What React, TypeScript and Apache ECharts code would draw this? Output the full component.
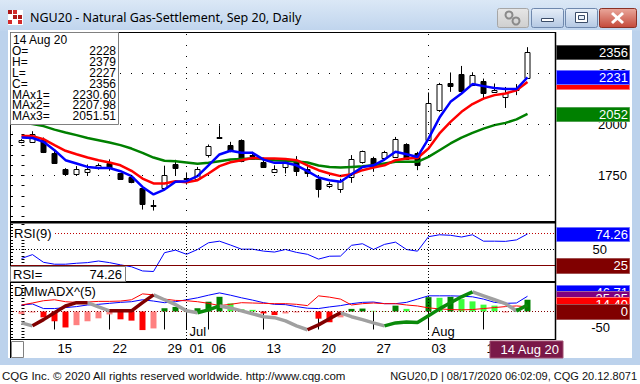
import React, { useEffect, useRef } from 'react';
import * as echarts from 'echarts';

const FONT = '"Liberation Sans", Arial, sans-serif';
const UI_FONT = '"Noto Sans", "DejaVu Sans", sans-serif';

const titleText = 'NGU20 - Natural Gas-Settlement, Sep 20, Daily';
const footerLeft = 'CQG Inc. \u00a9 2020 All rights reserved worldwide. http://www.cqg.com';
const footerRight = 'NGU20,D | 08/17/2020 06:02:09, CQG 20.12.8071';
const lastDateLabel = '14 Aug 20';

const dates = [
  '06-10', '06-11', '06-12', '06-15', '06-16', '06-17', '06-18', '06-19', '06-22', '06-23',
  '06-24', '06-25', '06-26', '06-29', '06-30', '07-01', '07-02', '07-06', '07-07', '07-08',
  '07-09', '07-10', '07-13', '07-14', '07-15', '07-16', '07-17', '07-20', '07-21', '07-22',
  '07-23', '07-24', '07-27', '07-28', '07-29', '07-30', '07-31', '08-03', '08-04', '08-05',
  '08-06', '08-07', '08-10', '08-11', '08-12', '08-13', '08-14',
];
const monthNames = ['Jan', 'Feb', 'Mar', 'Apr', 'May', 'Jun', 'Jul', 'Aug', 'Sep', 'Oct', 'Nov', 'Dec'];

const opens = [1912, 1915, 1923, 1858, 1784, 1756, 1768, 1786, 1812, 1760, 1743, 1688, 1600, 1690, 1808, 1735, 1734, 1850, 1935, 1898, 1923, 1845, 1815, 1768, 1792, 1828, 1784, 1733, 1697, 1685, 1741, 1817, 1838, 1835, 1841, 1903, 1858, 1926, 2070, 2204, 2247, 2193, 2212, 2160, 2135, 2178, 2228];
const highs = [1928, 1967, 1936, 1870, 1786, 1796, 1804, 1809, 1829, 1762, 1745, 1690, 1630, 1798, 1827, 1765, 1792, 1902, 1996, 1915, 1927, 1866, 1838, 1800, 1829, 1845, 1799, 1737, 1717, 1734, 1850, 1872, 1842, 1871, 1939, 1908, 1866, 2157, 2204, 2255, 2287, 2256, 2225, 2201, 2184, 2198, 2379];
const lows = [1908, 1913, 1860, 1808, 1750, 1750, 1752, 1779, 1773, 1733, 1712, 1583, 1578, 1687, 1749, 1705, 1732, 1838, 1933, 1864, 1815, 1838, 1788, 1763, 1760, 1749, 1743, 1642, 1688, 1665, 1714, 1808, 1768, 1828, 1838, 1830, 1776, 1923, 2062, 2160, 2158, 2188, 2123, 2158, 2081, 2144, 2227];
const closes = [1923, 1951, 1863, 1812, 1756, 1784, 1784, 1799, 1787, 1735, 1719, 1610, 1605, 1751, 1788, 1738, 1784, 1894, 1940, 1868, 1820, 1850, 1791, 1784, 1817, 1773, 1764, 1682, 1710, 1721, 1831, 1868, 1792, 1863, 1931, 1833, 1801, 2103, 2198, 2189, 2163, 2242, 2152, 2171, 2152, 2168, 2356];

const ma1 = [1936, 1934, 1915, 1874, 1825, 1809, 1792, 1787, 1787, 1771, 1747, 1694, 1657, 1681, 1719, 1722, 1747, 1800, 1853, 1871, 1861, 1861, 1828, 1812, 1812, 1800, 1771, 1740, 1727, 1719, 1756, 1792, 1800, 1828, 1866, 1854, 1841, 1931, 2034, 2111, 2152, 2198, 2188, 2179, 2174, 2174, 2230.6];
const ma2 = [1943, 1943, 1928, 1899, 1871, 1854, 1838, 1825, 1814, 1800, 1773, 1735, 1711, 1711, 1722, 1717, 1727, 1760, 1796, 1815, 1825, 1836, 1833, 1833, 1831, 1825, 1799, 1776, 1760, 1747, 1756, 1776, 1789, 1800, 1825, 1833, 1836, 1882, 1956, 2013, 2062, 2100, 2127, 2144, 2152, 2168, 2207.98];
const ma3 = [2010, 2002, 1992, 1975, 1961, 1948, 1934, 1923, 1912, 1899, 1882, 1861, 1838, 1822, 1820, 1814, 1808, 1812, 1820, 1828, 1831, 1833, 1831, 1825, 1822, 1818, 1814, 1799, 1792, 1789, 1792, 1795, 1800, 1809, 1817, 1817, 1817, 1841, 1874, 1907, 1936, 1959, 1980, 1997, 2008, 2025, 2051.51];

const rsi = [36, 42, 30, 27, 27, 28.5, 29.5, 32, 29.5, 26, 23, 16.5, 15.6, 45, 49, 42.5, 50, 60.5, 63, 57, 50.5, 50.5, 47.5, 46, 50, 45.5, 42.5, 35, 39.5, 39.7, 56.5, 59, 50, 58, 61.5, 50, 47.4, 70, 73, 72.2, 69.5, 73, 63, 63, 62.7, 65, 74.26];

const diPlus = [20, 23, 9, 9, 12, 15, 20, 22, 25, 28, 30, 36, 32, 27, 30, 36, 42, 50, 57, 50, 42, 35, 27, 22, 21, 15, 10, 9, 14, 18, 24, 28, 29, 24, 24, 28, 38, 48, 48, 48, 47, 45, 38, 28, 25, 26, 46.71];
const diMinus = [20, 26, 33, 36, 30, 28, 29, 31, 31, 32, 36, 54, 51, 38, 34, 33, 30, 25, 18, 22, 27, 26, 25, 24, 24, 22, 18, 48, 44, 38, 20, 24, 26, 24, 24, 20, 17, 11, 8, 6, 5, 6, 9, 12, 15, 17, 14.4];
const adx = [-35, -44, -25, -4, 17, 27, 27, 14, 2, 2, 2, 27, 51, 36, 21, 2, -4, 5, 17, 11, 2, -7, -16, -19, -29, -44, -56, -41, -22, -4, -16, -25, -35, -44, -35, -32, -34, -13, 8, 27, 45, 60, 48, 36, 24, 2, 20];
// trend of each ADX segment: g = falling (grey), r = rising / DI- (dark red), n = rising / DI+ (green)
const adxTrend = 'grrrrrggrrrrggggnnggggggggrrrggggnnnnnnnnggggn';
const dmiHist = [-8, -3, -18, -30, -49, -42, -30, -21, -9, -24, -28, -57, -52, 10, 14, 4, 10, 30, 45, 25, 7, 5, -6, -11, -6, -3, -2, -22, -33, -18, 8, 9, 2, 1, 18, 8, 1, 44, 42, 45, 38, 31, 21, 18, -3, 10, 36];
const dmiHistColor = 'rrRRRrrrrRRRrGGgGGGgggRRrrrRRrGGggGggGgGggggrGG';
const adxrLast = 35.35;

const priceLabels = [1750, 2000, 2250];
const rsiLabels = [50];
const dmiLabels = [-50];
const rsiOver = 75;
const rsiMid = 50;
const rsiUnder = 25;

const X_MIN = -1.045;
const X_MAX = 48.5;
const P_MIN = 1522.0;
const P_MAX = 2453.4;
const R_MIN = 0.78;
const R_MAX = 91.4;
const D_MIN = -84.4;
const D_MAX = 87.4;

const histColors: Record<string, string> = { R: '#ff0000', r: '#ff8080', G: '#008000', g: '#3cff3c' };
const adxColors: Record<string, string> = { g: '#a0a0a0', r: '#800000', n: '#0a8a0a' };

function range(a: number, b: number, step: number) {
  const out: number[] = [];
  for (let v = a; v <= b + 1e-9; v += step) out.push(v);
  return out;
}

const monthStarts = dates
  .map((d, i) => (i > 0 && d.slice(0, 2) !== dates[i - 1].slice(0, 2) ? i : -1))
  .filter((i) => i >= 0);
const labelIdx = dates
  .map((d, i) => {
    const day = new Date('2020-' + d + 'T00:00:00Z').getUTCDay();
    return i > 0 && (day === 1 || monthStarts.includes(i)) ? i : -1;
  })
  .filter((i) => i >= 0);

function buildOption(): any {
  const n = dates.length;
  const adxSeries = ['g', 'r', 'n'].map((c) => {
    const data: any[] = [];
    let prevEnd = -5;
    for (let k = 0; k < n - 1; k++) {
      if (adxTrend[k] !== c) continue;
      if (prevEnd !== k) {
        if (data.length) data.push([k - 0.01, '-']);
        data.push([k, adx[k]]);
      }
      data.push([k + 1, adx[k + 1]]);
      prevEnd = k + 1;
    }
    return {
      type: 'line', xAxisIndex: 2, yAxisIndex: 2, data, symbol: 'none', z: 5,
      lineStyle: { color: adxColors[c], width: 3.5 }, connectNulls: false, silent: true,
    };
  });

  const dotted = (color: string, gap: number) => ({ color, width: 1, type: [1, gap] });
  const vLines = (gap: number) => monthStarts.map((i) => ({ xAxis: i, lineStyle: dotted('#000', gap) }));

  const xAxisBase = { type: 'value', min: X_MIN, max: X_MAX, splitLine: { show: false } };
  const tickAxis = (gridIndex: number, min: number, max: number, step: number) => ({
    gridIndex, type: 'value', min, max, position: 'left',
    splitLine: { show: false }, axisLine: { show: false },
    axisLabel: { show: false },
    axisTick: { show: true, inside: true, length: 3, customValues: range(Math.ceil(min / step) * step, max, step), lineStyle: { color: '#000' } },
  });
  const labelFmt = (v: number) => String(v);

  return {
    animation: false,
    grid: [
      { left: 10, top: 32, width: 545, height: 190 },
      { left: 10, top: 223, width: 545, height: 58 },
      { left: 10, top: 283, width: 545, height: 56 },
    ],
    xAxis: [
      { ...xAxisBase, gridIndex: 0, show: false },
      { ...xAxisBase, gridIndex: 1, show: false },
      {
        ...xAxisBase, gridIndex: 2, position: 'bottom',
        axisLine: { show: false },
        axisTick: { show: true, customValues: labelIdx, length: 18, lineStyle: { color: '#000' } },
        axisLabel: {
          show: true, customValues: labelIdx, align: 'left', margin: 3, padding: [0, 0, 0, 3],
          fontSize: 13, fontFamily: FONT, color: '#000',
          formatter: (v: number) => dates[Math.round(v)].slice(3),
        },
      },
    ],
    yAxis: [
      {
        gridIndex: 0, type: 'value', min: P_MIN, max: P_MAX, position: 'right',
        splitLine: { show: false }, axisLine: { show: false },
        axisTick: { show: true, length: 3, customValues: range(1550, 2450, 50), lineStyle: { color: '#000' } },
        axisLabel: { customValues: priceLabels, formatter: labelFmt, align: 'right', margin: 72, fontSize: 13, fontFamily: FONT, color: '#000' },
      },
      {
        gridIndex: 1, type: 'value', min: R_MIN, max: R_MAX, position: 'right',
        splitLine: { show: false }, axisLine: { show: false },
        axisTick: { show: true, length: 3, customValues: range(5, 90, 5), lineStyle: { color: '#000' } },
        axisLabel: { customValues: rsiLabels, formatter: labelFmt, align: 'right', margin: 52, fontSize: 13, fontFamily: FONT, color: '#000' },
      },
      {
        gridIndex: 2, type: 'value', min: D_MIN, max: D_MAX, position: 'right',
        splitLine: { show: false }, axisLine: { show: false },
        axisTick: { show: true, length: 3, customValues: range(-80, 80, 10), lineStyle: { color: '#000' } },
        axisLabel: { customValues: dmiLabels, formatter: labelFmt, align: 'right', margin: 55, fontSize: 13, fontFamily: FONT, color: '#000' },
      },
      tickAxis(0, P_MIN, P_MAX, 50),
      tickAxis(1, R_MIN, R_MAX, 5),
      tickAxis(2, D_MIN, D_MAX, 10),
    ],
    series: [
      {
        type: 'custom', xAxisIndex: 0, yAxisIndex: 0, clip: true, z: 2,
        data: opens.map((o, i) => [i, o, highs[i], lows[i], closes[i]]),
        encode: { x: 0, y: [1, 2, 3, 4] },
        renderItem: (params: any, api: any) => {
          const x = api.value(0);
          const o = api.value(1), h = api.value(2), l = api.value(3), c = api.value(4);
          const pO = api.coord([x, o]), pC = api.coord([x, c]);
          const pH = api.coord([x, h]), pL = api.coord([x, l]);
          const xc = Math.floor(pO[0]) + 0.5;
          const top = Math.round(Math.min(pO[1], pC[1])) + 0.5;
          const bot = Math.round(Math.max(pO[1], pC[1])) + 0.5;
          const up = c >= o;
          return {
            type: 'group',
            children: [
              { type: 'line', shape: { x1: xc, y1: pH[1], x2: xc, y2: pL[1] }, style: { stroke: '#000', lineWidth: 1 } },
              { type: 'rect', shape: { x: xc - 2.5, y: top, width: 5, height: Math.max(bot - top, 1) }, style: { fill: up ? '#ffffff' : '#000000', stroke: '#000', lineWidth: 1 } },
            ],
          };
        },
      },
      {
        type: 'line', xAxisIndex: 0, yAxisIndex: 0, data: ma3.map((v, i) => [i, v]), symbol: 'none', z: 3,
        lineStyle: { color: '#008000', width: 2.5 }, silent: true,
        markLine: {
          silent: true, symbol: ['none', 'none'], label: { show: false }, animation: false,
          data: [
            ...priceLabels.map((v) => ({ yAxis: v, lineStyle: dotted('#000', 10) })),
            ...vLines(10),
          ],
        },
      },
      { type: 'line', xAxisIndex: 0, yAxisIndex: 0, data: ma2.map((v, i) => [i, v]), symbol: 'none', z: 3, lineStyle: { color: '#ff0000', width: 2.5 }, silent: true },
      { type: 'line', xAxisIndex: 0, yAxisIndex: 0, data: ma1.map((v, i) => [i, v]), symbol: 'none', z: 3, lineStyle: { color: '#0000ff', width: 2.5 }, silent: true },
      {
        type: 'line', xAxisIndex: 1, yAxisIndex: 1, data: rsi.map((v, i) => [i, v]), symbol: 'none', z: 3,
        lineStyle: { color: '#0000ff', width: 1 }, silent: true,
        markLine: {
          silent: true, symbol: ['none', 'none'], label: { show: false }, animation: false,
          data: [
            { yAxis: rsiOver, lineStyle: dotted('#c00000', 2) },
            { yAxis: rsiMid, lineStyle: dotted('#000', 2) },
            { yAxis: rsiUnder, lineStyle: { color: '#800000', width: 1, type: 'solid' } },
            ...vLines(2),
          ],
        },
      },
      {
        type: 'custom', xAxisIndex: 2, yAxisIndex: 2, clip: true, z: 2,
        data: dmiHist.map((v, i) => [i, v]),
        encode: { x: 0, y: 1 },
        renderItem: (params: any, api: any) => {
          const x = api.value(0), v = api.value(1);
          const p0 = api.coord([x, 0]), p1 = api.coord([x, v]);
          const xc = Math.floor(p0[0]);
          return {
            type: 'rect',
            shape: { x: xc - 2.5, y: Math.min(p0[1], p1[1]), width: 6, height: Math.abs(p1[1] - p0[1]) },
            style: { fill: histColors[dmiHistColor[params.dataIndex]] },
          };
        },
        markLine: {
          silent: true, symbol: ['none', 'none'], label: { show: false }, animation: false,
          data: [{ yAxis: 0, lineStyle: dotted('#800000', 2) }, ...vLines(2)],
        },
      },
      { type: 'line', xAxisIndex: 2, yAxisIndex: 2, data: diPlus.map((v, i) => [i, v]), symbol: 'none', z: 4, lineStyle: { color: '#0000ff', width: 1 }, silent: true },
      { type: 'line', xAxisIndex: 2, yAxisIndex: 2, data: diMinus.map((v, i) => [i, v]), symbol: 'none', z: 4, lineStyle: { color: '#ff0000', width: 1 }, silent: true },
      ...adxSeries,
    ],
  };
}

function buildGraphic(py: (axis: number, v: number) => number, px: (i: number) => number): any[] {
  const g: any[] = [];
  const n = closes.length;
  const grad = (a: string, b: string) => new echarts.graphic.LinearGradient(0, 0, 0, 1, [{ offset: 0, color: a }, { offset: 1, color: b }]);
  const rect = (x: number, y: number, w: number, h: number, style: any, z: number, r = 0) =>
    ({ type: 'rect', shape: { x, y, width: w, height: h, r }, style, z, silent: true });
  const text = (x: number, y: number, t: string, style: any, z: number) =>
    ({ type: 'text', x, y, style: { text: t, verticalAlign: 'middle', ...style }, z, silent: true });
  const line = (x1: number, y1: number, x2: number, y2: number, stroke: string, lw: number, z: number) =>
    ({ type: 'line', shape: { x1, y1, x2, y2 }, style: { stroke, lineWidth: lw }, z, silent: true });

  // window chrome
  g.push(rect(0, 0, 640, 384, { fill: '#bcd2ec' }, -100));
  g.push(rect(0, 0, 640, 31, { fill: grad('#dbe8f6', '#bfd4ed') }, -99));
  g.push(rect(8, 30, 624, 328, { fill: '#ffffff' }, -98));
  g.push(rect(0, 365, 640, 19, { fill: '#ffffff' }, -98));
  // icon
  g.push(rect(8, 10, 15, 15, { fill: '#ffffff' }, -90));
  [[8, 10], [13, 10], [18, 15], [8, 20], [13, 15], [18, 20]].forEach(([x, y], k) => {
    g.push(rect(x, y, 4, 4, { fill: k % 2 ? '#d42a2a' : '#b01818' }, -89));
  });
  g.push(text(30, 17.5, titleText, { font: '12.5px ' + UI_FONT, fill: '#000' }, -89));
  // title buttons
  g.push(rect(497.5, 8.5, 31, 19, { fill: grad('#e6e6e6', '#cfcfcf'), stroke: '#a6a6a6', lineWidth: 1 }, -90, 2));
  g.push({ type: 'circle', shape: { cx: 509, cy: 15, r: 3.5 }, style: { fill: 'none', stroke: '#8a8a8a', lineWidth: 2 }, z: -89, silent: true });
  g.push({ type: 'circle', shape: { cx: 516, cy: 21, r: 3.5 }, style: { fill: 'none', stroke: '#8a8a8a', lineWidth: 2 }, z: -89, silent: true });
  g.push(rect(531.5, 8.5, 32, 19, { fill: grad('#e6eef8', '#b4c8e3'), stroke: '#6f88ad', lineWidth: 1 }, -90, 2));
  g.push(rect(541.5, 18.5, 12, 3, { fill: '#ffffff', stroke: '#3a4c68', lineWidth: 1 }, -89));
  g.push(rect(565.5, 8.5, 32, 19, { fill: grad('#e6eef8', '#b4c8e3'), stroke: '#6f88ad', lineWidth: 1 }, -90, 2));
  g.push(rect(575.5, 12.5, 12, 10, { fill: '#ffffff', stroke: '#3a4c68', lineWidth: 1 }, -89));
  g.push(rect(578.5, 15.5, 6, 4, { fill: '#e6eef8', stroke: '#3a4c68', lineWidth: 1 }, -88));
  g.push(rect(599.5, 8.5, 37, 19, { fill: grad('#eaa89c', '#c4493a'), stroke: '#8b3125', lineWidth: 1 }, -90, 2));
  g.push(line(612, 13, 623, 23, '#ffffff', 3, -89));
  g.push(line(623, 13, 612, 23, '#ffffff', 3, -89));
  // footer
  g.push(text(2, 376, footerLeft, { font: '11.5px ' + FONT, fill: '#111' }, -89));
  g.push(text(637, 376, footerRight, { font: '11px ' + FONT, fill: '#111', align: 'right' }, -89));

  // plot frames
  g.push(line(10, 32.5, 555, 32.5, '#000', 1, 50));
  g.push(line(10.5, 32, 10.5, 358, '#000', 1, 50));
  g.push(line(555.5, 32, 555.5, 340, '#000', 1.5, 50));
  g.push(rect(10, 221, 546, 2.5, { fill: '#000' }, 50));
  g.push(rect(10, 281, 546, 2, { fill: '#000' }, 50));
  g.push(line(10, 339.5, 556, 339.5, '#000', 1, 50));

  // info box
  const bz = 100;
  g.push(rect(10.5, 32.5, 108, 92, { fill: '#ffffff', stroke: '#808080', lineWidth: 1 }, bz));
  const f12 = { font: '12px ' + FONT, fill: '#000' };
  const rows: [string, string][] = [
    ['O=', String(opens[n - 1])],
    ['H=', String(highs[n - 1])],
    ['L=', String(lows[n - 1])],
    ['C=', String(closes[n - 1])],
    ['MAx1=', ma1[n - 1].toFixed(2)],
    ['MAx2=', ma2[n - 1].toFixed(2)],
    ['MAx3=', ma3[n - 1].toFixed(2)],
  ];
  g.push(text(13, 40, lastDateLabel, f12, bz + 1));
  rows.forEach(([k, v], r) => {
    const y = 51.3 + r * 10.8;
    g.push(text(12, y, k, f12, bz + 1));
    g.push(text(116, y, v, { ...f12, align: 'right' }, bz + 1));
  });

  // RSI / DMI labels
  g.push(text(13, 233, 'RSI(9)', { font: '13px ' + FONT, fill: '#000', backgroundColor: '#fff', padding: [0, 2, 0, 1] }, bz));
  g.push(text(14, 291, 'DMIwADX^(5)', { font: '13px ' + FONT, fill: '#000' }, bz));
  g.push(rect(10.5, 266.5, 115, 15, { fill: '#ffffff', stroke: '#808080', lineWidth: 1 }, bz));
  g.push(text(13, 274, 'RSI=', { font: '13px ' + FONT, fill: '#000' }, bz + 1));
  g.push(text(122, 274, rsi[n - 1].toFixed(2), { font: '13px ' + FONT, fill: '#000', align: 'right' }, bz + 1));

  // right value boxes
  let zb = 110;
  const box = (yc: number, h: number, fill: string, stroke: string, t: string | null) => {
    g.push(rect(556.5, Math.round(yc - h / 2) + 0.5, 73, h, { fill, stroke, lineWidth: 1 }, zb++));
    if (t !== null) g.push(text(628, yc + 0.5, t, { font: '13px ' + FONT, fill: '#ffffff', align: 'right' }, zb++));
  };
  box(py(0, closes[n - 1]), 14, '#000000', '#555555', String(closes[n - 1]));
  box(py(0, ma2[n - 1]), 14, '#ff0000', '#ff7070', null);
  box(py(0, ma1[n - 1]), 14, '#0000ff', '#7070ff', ma1[n - 1].toFixed(0));
  box(py(0, ma3[n - 1]), 14, '#008000', '#50a050', ma3[n - 1].toFixed(0));
  box(py(1, rsi[n - 1]), 14, '#0000ff', '#7070ff', rsi[n - 1].toFixed(2));
  box(py(1, rsiUnder), 15, '#800000', '#a05050', String(rsiUnder));
  const y0 = py(2, 0);
  box(y0 - 19, 14, '#0000ff', '#7070ff', diPlus[n - 1].toFixed(2));
  box(y0 - 13, 14, '#800080', '#a060a0', adxrLast.toFixed(2));
  box(y0 - 7, 14, '#ff0000', '#ff7070', diMinus[n - 1].toFixed(2));
  box(y0, 15, '#800000', '#a05050', '0');

  // month labels
  monthStarts.forEach((i) => {
    const m = monthNames[parseInt(dates[i].slice(0, 2), 10) - 1];
    g.push(text(px(i) + 3, 331, m, { font: '13px ' + FONT, fill: '#000' }, bz));
  });

  // date strip extras
  g.push(rect(11.5, 341.5, 12, 16, { fill: '#ffffff', stroke: '#808080', lineWidth: 1 }, bz));
  g.push(rect(490, 341, 73, 17, { fill: '#7a1848', stroke: '#a05070', lineWidth: 1 }, bz));
  g.push(text(559, 349.5, lastDateLabel, { font: '13px ' + FONT, fill: '#ffffff', align: 'right' }, bz + 1));

  return g;
}

export default function App() {
  const ref = useRef<HTMLDivElement>(null);
  useEffect(() => {
    const el = ref.current;
    if (!el) return;
    const chart = echarts.init(el, null, { renderer: 'svg' });
    chart.setOption(buildOption());
    const py = (axis: number, v: number) => chart.convertToPixel({ yAxisIndex: axis }, v) as unknown as number;
    const px = (i: number) => chart.convertToPixel({ xAxisIndex: 0 }, i) as unknown as number;
    chart.setOption({ graphic: buildGraphic(py, px) });
    return () => chart.dispose();
  }, []);
  return (
    <div
      ref={ref}
      style={{ position: 'fixed', left: 0, top: 0, width: 640, height: 384, background: '#fff' }}
    />
  );
}
